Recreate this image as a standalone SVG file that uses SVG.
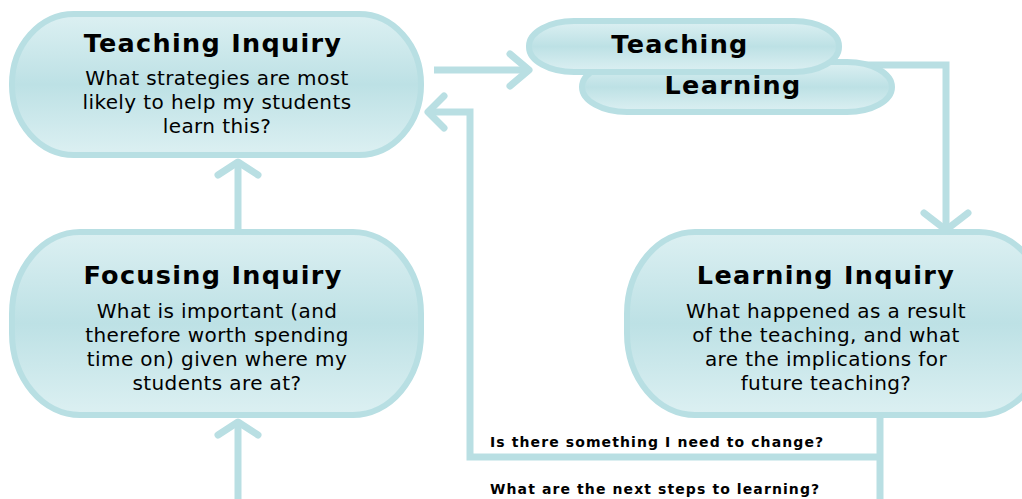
<svg xmlns="http://www.w3.org/2000/svg" width="1022" height="499" viewBox="0 0 1022 499">
<defs>
<linearGradient id="g" x1="0" y1="0" x2="0" y2="1">
<stop offset="0" stop-color="#dcf0f2"/>
<stop offset="0.5" stop-color="#bde1e5"/>
<stop offset="1" stop-color="#dcf0f2"/>
</linearGradient>
<style>
.node{fill:url(#g);stroke:#b8dfe3;stroke-width:6}
.conn{fill:none;stroke:#b9dfe3;stroke-width:7;stroke-linecap:butt;stroke-linejoin:miter}
.head{fill:none;stroke:#b9dfe3;stroke-width:7;stroke-linecap:round;stroke-linejoin:round}
.title{font-family:"DejaVu Sans",Verdana,sans-serif;font-weight:bold;font-size:25.5px;letter-spacing:1.3px;fill:#000;text-anchor:middle}
.body{font-family:"DejaVu Sans",Verdana,sans-serif;font-size:20px;letter-spacing:0.4px;fill:#000;text-anchor:middle}
.lbl{font-family:"DejaVu Sans",Verdana,sans-serif;font-weight:bold;font-size:14px;letter-spacing:1.1px;fill:#000}
</style>
</defs>
<rect width="1022" height="499" fill="#fff"/>
<g id="connectors">
<path class="conn" d="M434 70 H528"/>
<path class="head" d="M510 54 L529 70 L510 86"/>
<path class="conn" d="M860 65 H946 V228"/>
<path class="head" d="M924 213 L946 230 L968 213"/>
<path class="conn" d="M880 412 V499"/>
<path class="conn" d="M880 457 H470 V112 H430"/>
<path class="head" d="M444 96 L428 112 L444 128"/>
<path class="conn" d="M238 234 V164"/>
<path class="head" d="M218 175 L238 162 L258 175"/>
<path class="conn" d="M238 499 V424"/>
<path class="head" d="M218 435 L238 422 L258 435"/>
</g>
<g id="teaching-inquiry">
<rect class="node" x="12" y="14" width="409" height="141" rx="62" ry="70"/>
<text class="title" x="213" y="52">Teaching Inquiry</text>
<text class="body" x="217" y="85">What strategies are most</text>
<text class="body" x="217" y="109">likely to help my students</text>
<text class="body" x="217" y="133">learn this?</text>
</g>
<g id="learning-pill">
<rect class="node" x="582" y="62" width="310" height="50" rx="45" ry="25"/>
<text class="title" x="733" y="94">Learning</text>
</g>
<g id="teaching-pill">
<rect class="node" x="529" y="21" width="310" height="51" rx="45" ry="25"/>
<text class="title" x="680" y="53">Teaching</text>
</g>
<g id="focusing-inquiry">
<rect class="node" x="12" y="232" width="409" height="183" rx="68" ry="82"/>
<text class="title" x="213" y="284">Focusing Inquiry</text>
<text class="body" x="217" y="318">What is important (and</text>
<text class="body" x="217" y="342">therefore worth spending</text>
<text class="body" x="217" y="366">time on) given where my</text>
<text class="body" x="217" y="390">students are at?</text>
</g>
<g id="learning-inquiry">
<rect class="node" x="627" y="232" width="420" height="183" rx="68" ry="82"/>
<text class="title" x="826" y="284">Learning Inquiry</text>
<text class="body" x="826" y="318">What happened as a result</text>
<text class="body" x="826" y="342">of the teaching, and what</text>
<text class="body" x="826" y="366">are the implications for</text>
<text class="body" x="826" y="390">future teaching?</text>
</g>
<g id="labels">
<text class="lbl" x="490" y="447">Is there something I need to change?</text>
<text class="lbl" x="490" y="494">What are the next steps to learning?</text>
</g>
</svg>
